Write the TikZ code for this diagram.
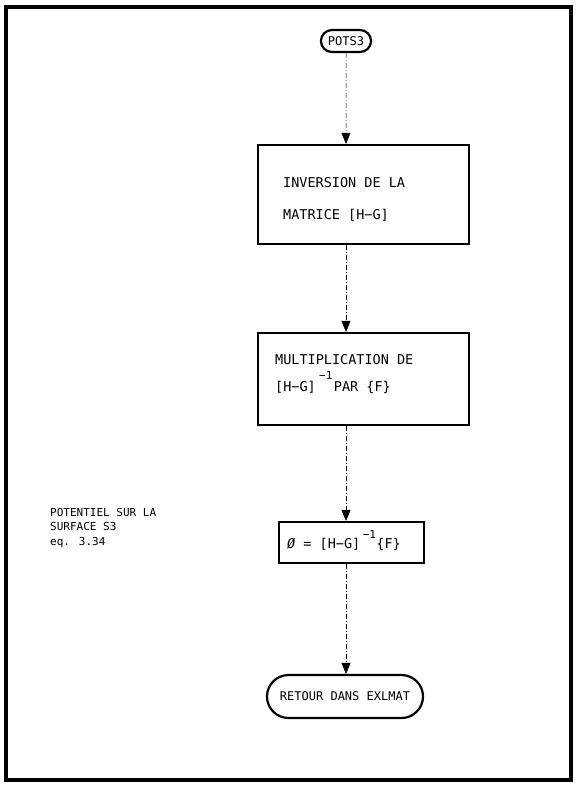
\documentclass[tikz,border=0pt]{standalone}
\usepackage{fontspec}
\setmainfont{DejaVu Sans Mono}
\usetikzlibrary{arrows.meta,shapes.misc}
\begin{document}
\begin{tikzpicture}[x=1pt,y=-1pt,
  every node/.style={font=\fontsize{13.5}{15}\selectfont},
  procbox/.style={draw,line width=2.2pt,rectangle,inner sep=0pt},
  termbox/.style={draw,line width=2.2pt,rounded rectangle,inner xsep=6pt,inner ysep=0pt,
    font=\fontsize{12}{14}\selectfont},
  txt/.style={anchor=west,inner sep=0pt},
  sup/.style={inner sep=0pt,font=\fontsize{11}{12}\selectfont},
  flow/.style={line width=0.5pt,dash pattern=on 5pt off 2pt on 1pt off 2pt,
    -{Triangle[length=11pt,width=9pt]}}]
\useasboundingbox (0,0) rectangle (576,785);
\draw[line width=4pt] (6,7) rectangle (571,780);
% start terminal
\node[termbox,minimum width=50pt,minimum height=22pt] (start) at (346,41) {POTS3};
% box 1
\node[procbox,minimum width=211pt,minimum height=99pt] (b1) at (363.5,194.5) {};
\node[txt] (b1l1) at (283,183) {INVERSION DE LA};
\node[txt] (b1l2) at (283,215) {MATRICE [H−G]};
% box 2
\node[procbox,minimum width=211pt,minimum height=92pt] (b2) at (363.5,379) {};
\node[txt] (b2l1) at (275,360) {MULTIPLICATION DE};
\node[txt] (b2l2) at (275,387) {[H−G]};
\node[sup,anchor=south west] (b2sup) at ([xshift=3pt,yshift=1pt]b2l2.north east) {−1};
\node[txt,anchor=base west] (b2l3) at ([xshift=1pt]b2sup.east |- b2l2.base) {PAR \{F\}};
% box 3
\node[procbox,minimum width=145pt,minimum height=41pt] (b3) at (351.5,542.5) {};
\node[txt] (b3t) at (287,544) {\textit{Ø} = [H−G]};
\node[sup,anchor=south west] (b3sup) at ([xshift=2pt,yshift=-1pt]b3t.north east) {−1};
\node[txt,anchor=base west] (b3r) at (b3sup.east |- b3t.base) {\{F\}};
% end terminal
\node[termbox,minimum width=168pt,minimum height=43pt] (end) at (345,696.5) {RETOUR DANS EXLMAT};
% side note
\node[anchor=north west,align=left,inner sep=0pt,font=\fontsize{11}{14.5}\selectfont] (note) at (50,508)
  {POTENTIEL SUR LA\\SURFACE S3\\eq. 3.34};
% connectors
\draw[flow] (start) -- (start |- b1.north);
\draw[flow] (b1.south -| start) -- (start |- b2.north);
\draw[flow] (b2.south -| start) -- (start |- b3.north);
\draw[flow] (b3.south -| start) -- (start |- end.north);
\end{tikzpicture}
\end{document}
